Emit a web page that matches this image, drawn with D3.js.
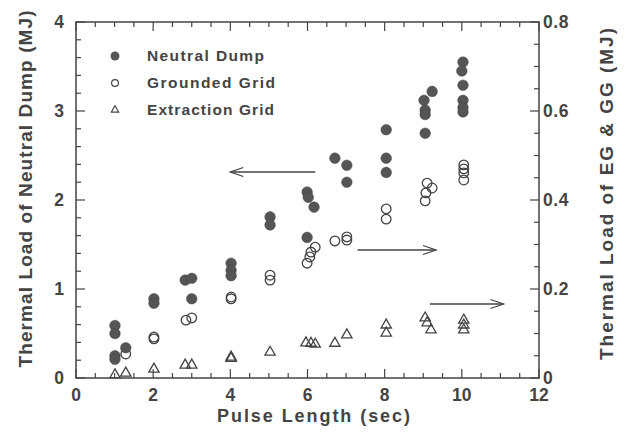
<!DOCTYPE html>
<html><head><meta charset="utf-8">
<script src="https://cdn.jsdelivr.net/npm/d3@7"></script>
<style>
body{margin:0;background:#fff;}
text{font-family:"Liberation Sans",Arial,sans-serif;font-weight:bold;fill:#444;}
</style></head>
<body><svg id="c" width="626" height="435"></svg>
<script>
// Neutral Dump (left axis, MJ)
const ndX = [1.01,1.01,1.01,1.01,1.29, 2.02,2.02, 2.83,3.0,3.0, 4.02,4.02,4.02, 5.03,5.03,
  5.99,6.02,6.17,5.99, 6.71,7.02,7.02, 8.04,8.04,8.04, 9.02,9.05,9.05,9.05,9.23,
  10.03,10.0,10.03,10.03,10.03,10.03];
const ndY = [0.59,0.50,0.25,0.21,0.34, 0.89,0.84, 1.10,1.12,0.89, 1.29,1.21,1.15, 1.81,1.72,
  2.09,2.03,1.92,1.58, 2.47,2.39,2.20, 2.79,2.47,2.31, 3.12,3.01,2.96,2.75,3.22,
  3.55,3.45,3.29,3.12,3.04,2.99];
// Grounded Grid (right axis, MJ)
const ggX = [1.29, 2.02,2.02, 2.85,3.0, 4.02,4.02, 5.03,5.03, 6.2,6.09,6.06,5.99, 6.71,7.02,7.02,
  8.04,8.04, 9.1,9.23,9.07,9.05, 10.05,10.05,10.05,10.05];
const ggY = [0.054, 0.092,0.088, 0.130,0.135, 0.182,0.178, 0.231,0.220, 0.294,0.283,0.272,0.258, 0.308,0.317,0.310,
  0.380,0.357, 0.438,0.427,0.416,0.398, 0.479,0.470,0.461,0.445];
// Extraction Grid (right axis, MJ)
const egX = [1.01,1.29, 2.02, 2.83,3.0, 4.02,4.02, 5.03, 5.96,6.09,6.2, 6.71, 7.02, 8.04,8.04,
  9.05,9.1,9.2, 10.05,10.05,10.05];
const egY = [0.007,0.011, 0.020, 0.029,0.029, 0.047,0.044, 0.058, 0.079,0.078,0.076, 0.078, 0.097, 0.119,0.101,
  0.135,0.124,0.108, 0.130,0.119,0.108];
const xTicks = [0,2,4,6,8,10,12];
const yLeftTicks = [0,1,2,3,4];
const yRightTicks = [0,0.2,0.4,0.6,0.8];
const legendLabels = ["Neutral Dump","Grounded Grid","Extraction Grid"];

const svg = d3.select("#c");
const L=76,R=539,T=22,B=378;
const x = d3.scaleLinear().domain([0,12]).range([L,R]);
const yl = d3.scaleLinear().domain([0,4]).range([B,T]);
const yr = d3.scaleLinear().domain([0,0.8]).range([B,T]);
const ink="#444";

svg.append("rect").attr("x",L).attr("y",T).attr("width",R-L).attr("height",B-T)
  .attr("fill","none").attr("stroke",ink).attr("stroke-width",1.5);

const g = svg.append("g");
d3.range(0,12.01,0.5).forEach(v=>{
  const maj = Math.abs(v%2)<1e-6; const len = maj?9:5;
  g.append("line").attr("x1",x(v)).attr("x2",x(v)).attr("y1",B).attr("y2",B-len).attr("stroke",ink).attr("stroke-width",1.2);
  g.append("line").attr("x1",x(v)).attr("x2",x(v)).attr("y1",T).attr("y2",T+len).attr("stroke",ink).attr("stroke-width",1.2);
});
d3.range(0,4.001,0.2).forEach(v=>{
  const maj = Math.abs(v-Math.round(v))<1e-6; const len = maj?9:5;
  g.append("line").attr("x1",L).attr("x2",L+len).attr("y1",yl(v)).attr("y2",yl(v)).attr("stroke",ink).attr("stroke-width",1.2);
});
d3.range(0,0.8001,0.05).forEach(v=>{
  const maj = Math.abs(v*5-Math.round(v*5))<1e-6; const len = maj?9:5;
  g.append("line").attr("x1",R).attr("x2",R-len).attr("y1",yr(v)).attr("y2",yr(v)).attr("stroke",ink).attr("stroke-width",1.2);
});
// tick labels
xTicks.forEach(v=>svg.append("text").attr("x",x(v)).attr("y",401).attr("text-anchor","middle")
  .attr("font-size",17.5).text(v));
yLeftTicks.forEach(v=>svg.append("text").attr("x",64).attr("y",yl(v)+6).attr("text-anchor","end")
  .attr("font-size",17.5).text(v));
yRightTicks.forEach(v=>svg.append("text").attr("x",543).attr("y",yr(v)+6).attr("text-anchor","start")
  .attr("font-size",17.5).attr("letter-spacing",0.6).text(v===0?"0":v.toFixed(1)));
// titles
svg.append("text").attr("x",313.5).attr("y",422).attr("text-anchor","middle").attr("font-size",18)
  .attr("textLength",193).attr("lengthAdjust","spacing").text("Pulse Length (sec)");
svg.append("text").attr("transform","translate(31.5,189) rotate(-90)").attr("text-anchor","middle")
  .attr("font-size",19).attr("textLength",357).attr("lengthAdjust","spacing").text("Thermal Load of Neutral Dump (MJ)");
svg.append("text").attr("transform","translate(613,194) rotate(-90)").attr("text-anchor","middle")
  .attr("font-size",19).attr("textLength",332).attr("lengthAdjust","spacing").text("Thermal Load of EG & GG (MJ)");

// data
const tri = d3.symbol().type(d3.symbolTriangle).size(46);
egX.forEach((v,i)=>svg.append("path").attr("d",tri).attr("transform",`translate(${x(v)},${yr(egY[i])})`)
  .attr("fill","none").attr("stroke",ink).attr("stroke-width",1.3));
ggX.forEach((v,i)=>svg.append("circle").attr("cx",x(v)).attr("cy",yr(ggY[i])).attr("r",4.8)
  .attr("fill","none").attr("stroke",ink).attr("stroke-width",1.3));
ndX.forEach((v,i)=>svg.append("circle").attr("cx",x(v)).attr("cy",yl(ndY[i])).attr("r",5.3)
  .attr("fill","#555").attr("stroke","#444").attr("stroke-width",0.5));

// legend
const lg = svg.append("g");
lg.append("circle").attr("cx",115).attr("cy",56).attr("r",4.5).attr("fill","#555");
lg.append("circle").attr("cx",115).attr("cy",83).attr("r",3.4).attr("fill","none").attr("stroke",ink).attr("stroke-width",1.2);
lg.append("path").attr("d",d3.symbol().type(d3.symbolTriangle).size(24)).attr("transform","translate(115,110)")
  .attr("fill","none").attr("stroke",ink).attr("stroke-width",1.1);
const lw = [117,128,127];
legendLabels.forEach((t,i)=>lg.append("text").attr("x",147).attr("y",61+i*26.8).attr("font-size",15.5)
  .attr("textLength",lw[i]).attr("lengthAdjust","spacing").text(t));

// arrows
function arrow(x1,x2,y){
  const dir = Math.sign(x2-x1);
  svg.append("line").attr("x1",x1).attr("x2",x2).attr("y1",y).attr("y2",y).attr("stroke",ink).attr("stroke-width",1.3);
  svg.append("path").attr("d",`M${x2-dir*13},${y-4.5} L${x2},${y} L${x2-dir*13},${y+4.5}`)
    .attr("fill","none").attr("stroke",ink).attr("stroke-width",1.3);
}
arrow(x(6.2),x(4.0),172);
arrow(x(7.3),x(9.33),250);
arrow(x(9.17),x(11.08),304);
</script></body></html>
